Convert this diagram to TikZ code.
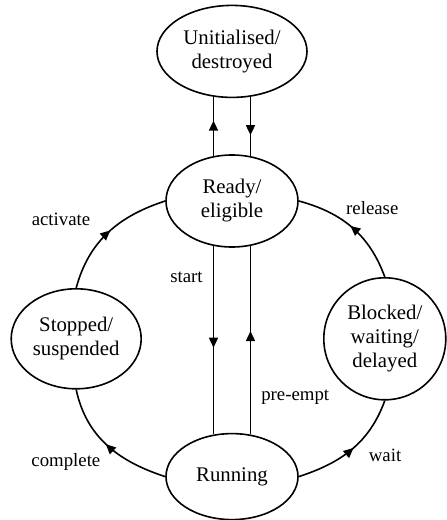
\documentclass[tikz,border=0pt]{standalone}
\usepackage{fontspec}
\setmainfont{Liberation Serif}
\usetikzlibrary{positioning,arrows.meta,calc,shapes.geometric,decorations.markings}

\begin{document}
\begin{tikzpicture}[
  state/.style={draw, ellipse, align=center, inner sep=0pt, line width=0.8pt,
                font=\fontsize{10.4}{12}\selectfont},
  flow/.style={line width=0.8pt, postaction={decorate},
               decoration={markings, mark=at position #1 with
                 {\arrow{Triangle[length=5pt,width=4.5pt]}}}},
  flow/.default=0.5,
  vert/.style={shorten <=-0.8pt, shorten >=-0.8pt},
  lbl/.style={font=\fontsize{9.4}{11}\selectfont, inner sep=0pt},
]
  \useasboundingbox (-116pt,-159.5pt) rectangle (107pt,100.5pt);

  \node[state, minimum width=66pt, minimum height=46pt] (ready) at (0,0)
    {Ready/\\eligible};
  \node[state, minimum width=75pt, minimum height=46pt, above=28pt of ready] (unit)
    {Unitialised/\\destroyed};
  \node[state, minimum width=66pt, minimum height=43pt, below=92.5pt of ready] (run)
    {Running};
  \coordinate (mid) at ($(ready)!0.5!(run)$);
  \node[state, minimum width=65pt, minimum height=50pt, left=45pt of mid] (stop)
    {Stopped/\\suspended};
  \node[state, circle, minimum size=61pt, right=45.5pt of mid] (block)
    {Blocked/\\waiting/\\delayed};

  % ready <-> unitialised
  \draw[flow=0.6, vert] ([xshift=-9.25pt]ready.north) -- ([xshift=-9.25pt]unit.south);
  \draw[flow=0.66, vert] ([xshift=9.25pt]unit.south) -- ([xshift=9.25pt]ready.north);

  % ready <-> running
  \draw[flow=0.54, vert] ([xshift=-9.25pt]ready.south) --
    node[lbl, pos=0.16, left=5pt] {start} ([xshift=-9.25pt]run.north);
  \draw[flow=0.55, vert] ([xshift=9.25pt]run.north) --
    node[lbl, pos=0.19, right=5pt] {pre-empt} ([xshift=9.25pt]ready.south);

  % outer ring
  \draw[flow=0.52] (stop.north) to[out=75, in=198]
    node[lbl, left=8.5pt, yshift=6.5pt] {activate} (ready.west);
  \draw[flow=0.52] (run.west) to[out=162, in=-78]
    node[lbl, left=3pt, yshift=-8.5pt] {complete} (stop.south);
  \draw[flow=0.52] (block.north) to[out=110, in=-15]
    node[lbl, above=6pt, xshift=10pt] {release} (ready.east);
  \draw[flow=0.52] (run.east) to[out=18, in=-110]
    node[lbl, right=8pt, yshift=-3pt] {wait} (block.south);
\end{tikzpicture}
\end{document}
